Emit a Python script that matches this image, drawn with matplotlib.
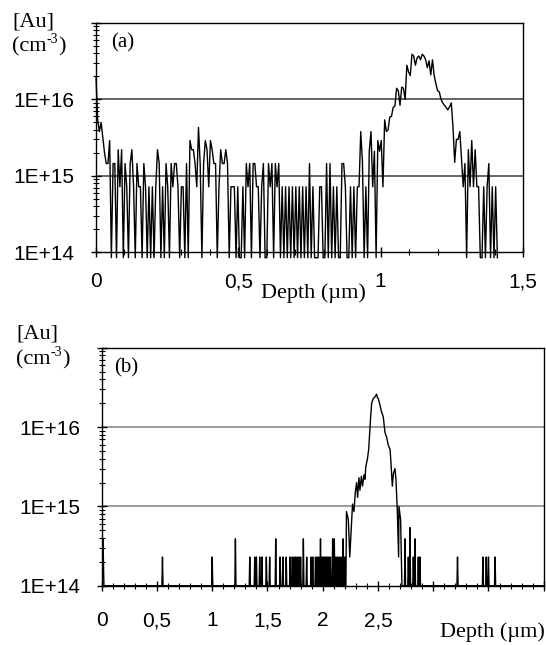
import numpy as np
import matplotlib
matplotlib.use("Agg")
import matplotlib.pyplot as plt
from matplotlib.ticker import MultipleLocator, LogLocator, NullFormatter

SANS = 'Liberation Sans'
SERIF = 'Liberation Serif'

# ---------------- data: panel (a) ----------------
a_step = 0.006          # depth step (um)
a_zero = 0.085          # plotted level (1e15 cm-3) for zero counts
# [Au] in units of 1e15 cm-3, one value per depth step
a_conc = [
    20, 5.3, 3.8, 5.0, 3.2, 2.0, 1.45, 1.45, 2.9, 0,
    1.45, 1.45, 0, 2.2, 0.72, 2.2, 0, 1.45, 0.72, 0,
    1.45, 2.2, 0.72, 0, 1.45, 0.72, 0.72, 0, 1.45, 0.72,
    0, 0.72, 0, 0.72, 0, 0.72, 2.2, 1.45, 0, 0.72,
    0, 1.45, 0.72, 0, 1.45, 0.72, 1.45, 1.45, 0.72, 0,
    0.72, 0.72, 0, 1.45, 0, 2.9, 2.2, 2.2, 1.45, 0.72,
    4.3, 1.45, 0, 1.45, 2.9, 2.2, 0.72, 2.9, 2.2, 1.45,
    1.45, 0, 0.72, 2.2, 1.45, 1.45, 2.2, 1.45, 0, 0.72,
    0.72, 0.72, 0, 0.72, 0, 0, 0.72, 0, 1.45, 0.72,
    1.45, 0, 1.45, 1.45, 0.72, 0.72, 0, 0.72, 1.45, 0,
    0, 1.45, 0.72, 1.45, 0, 1.45, 0.72, 1.45, 0, 0.72,
    0, 0.72, 0, 0.72, 0, 0.72, 0, 0.72, 0, 0.72,
    0, 0.72, 0, 0.72, 0, 1.45, 0, 0.72, 0, 0,
    0, 0.72, 0.72, 0, 0, 1.45, 0, 1.45, 0, 0.72,
    0, 0.72, 0, 0, 1.45, 1.45, 0.72, 0, 0, 0.72,
    0, 0.72, 0, 0.72, 0.72, 3.8, 1.5, 0, 0.72, 0,
    2.1, 3.8, 0.72, 2.1, 0, 2.9, 2.1, 2.9, 0.72, 5.4,
    3.8, 4.0, 5.9, 6.0, 7.9, 8.2, 14, 13, 8.4, 14.5,
    14, 10, 28, 23, 20.5, 39, 37, 28, 35, 37,
    33, 39, 37, 33, 26, 32, 21, 33, 20.5, 16,
    13, 12.5, 10, 9, 8.4, 7.8, 7.3, 8, 9, 4.4,
    1.5, 3, 3, 3.8, 1.65, 0.72, 1.45, 0, 2.2, 0.72,
    2.9, 0.72, 2.2, 0.72, 0.72, 0, 0, 0.72, 0, 0.72,
    1.45, 0, 0.72, 0, 0.72, 0,
]

# ---------------- data: panel (b) ----------------
b_step = 0.005
b_end = 4.0
# isolated noise spikes: depth (um), [Au] in units of 1e14 cm-3
b_spike_depth = [0.0, 0.01, 0.015, 0.55, 1.00, 1.21, 1.34, 1.385, 1.40, 1.43, 1.45,
                 1.49, 1.52, 1.575, 1.615, 1.64, 1.67, 1.705, 1.725, 1.74, 1.755,
                 1.77, 1.785, 1.80, 1.825, 1.855, 1.895, 1.91, 1.935, 1.95, 1.965,
                 1.98, 1.995, 2.005, 2.02, 2.03, 2.045, 2.055, 2.07, 2.09, 2.105,
                 2.12, 2.135, 2.15, 2.165, 2.185, 2.20,
                 2.745, 2.775, 2.79, 2.82, 2.835, 2.865, 2.88, 3.22, 3.45, 3.48,
                 3.50, 3.56]
b_spike_conc = [5.4, 3.9, 2.3, 2.3, 2.3, 3.9, 2.3, 2.3, 2.3, 2.3, 2.3,
                2.3, 2.3, 3.9, 2.3, 2.3, 2.3, 2.3, 2.3, 2.3, 2.3,
                2.3, 2.3, 2.3, 3.9, 2.3, 2.3, 2.3, 2.3, 2.3, 2.3,
                3.9, 2.3, 2.3, 2.3, 2.3, 2.3, 2.3, 2.3, 3.9, 3.9,
                2.3, 2.3, 2.3, 2.3, 3.9, 2.3,
                3.9, 2.3, 5.4, 2.3, 3.9, 2.3, 2.3, 2.3, 2.3, 2.3,
                2.3, 2.3]
# implanted Au peak: depth (um), [Au] in units of 1e15 cm-3 (0 = no counts)
b_peak_depth = [2.215, 2.232, 2.245, 2.262, 2.27, 2.283, 2.295, 2.307, 2.316, 2.328,
                2.337, 2.35, 2.36, 2.374, 2.383, 2.39, 2.404, 2.416, 2.425, 2.434,
                2.443, 2.458, 2.473, 2.488, 2.495, 2.503, 2.52, 2.53, 2.548, 2.564,
                2.578, 2.594, 2.61, 2.618, 2.63, 2.64, 2.654, 2.663, 2.675, 2.687,
                2.69, 2.705, 2.717]
b_peak_conc = [0.86, 0.68, 0.23, 0.68, 1.07, 0.86, 1.5, 2.0, 1.3, 2.3,
               1.6, 2.4, 1.8, 2.5, 2.2, 3.2, 3.9, 5.2, 8.5, 13.5,
               20, 23, 24, 26, 23.5, 23, 18.5, 16, 13.5, 8.5,
               7.5, 5.9, 5.2, 3.5, 1.8, 2.6, 3.0, 2.2, 0.9, 0.23,
               1.0, 0.68, 0]

a_xticks = [0, 0.5, 1, 1.5]
a_xlabels = ['0', '0,5', '1', '1,5']
b_xticks = [0, 0.5, 1, 1.5, 2, 2.5, 3, 3.5, 4]
b_xlabels = ['0', '0,5', '1', '1,5', '2', '2,5', '', '', '']
yticks = [1e14, 1e15, 1e16, 1e17]
ylabels = ['1E+14', '1E+15', '1E+16', '']

# ---------------- build series ----------------
a_vals = np.array(a_conc, dtype=float)
a_vals[a_vals == 0] = a_zero
a_y = a_vals * 1e15
a_x = np.arange(len(a_conc)) * a_step

b_grid = np.arange(0, b_end + 1e-9, b_step)
b_vals = np.full(len(b_grid), 1e14)
for d, v in zip(b_spike_depth, b_spike_conc):
    b_vals[int(round(d / b_step))] = v * 1e14
keep = (b_grid < b_peak_depth[0]) | (b_grid > b_peak_depth[-1])
pk_y = np.array(b_peak_conc, dtype=float) * 1e15
pk_y[pk_y == 0] = 1e14
b_x = np.concatenate([b_grid[keep], b_peak_depth])
b_y = np.concatenate([b_vals[keep], pk_y])
order = np.argsort(b_x, kind='stable')
b_x, b_y = b_x[order], b_y[order]

# ---------------- figure ----------------
W, H = 546, 645
fig = plt.figure(figsize=(W / 100, H / 100), dpi=100)


def fx(px):
    return px / W


def fy(py):
    return 1 - py / H


axA = fig.add_axes([fx(96), fy(252.3), 427 / W, 229.3 / H])
axB = fig.add_axes([fx(101.7), fy(585.7), 442 / W, 237.9 / H])


def style(ax, xmax, xticks, xlabels, gridc, xpad):
    ax.set_yscale('log')
    ax.set_ylim(1e14, 1e17)
    ax.set_xlim(0, xmax)
    for sp in ax.spines.values():
        sp.set_linewidth(1.0)
        sp.set_color('black')
    ax.axhline(1e15, color=gridc, lw=1.1, zorder=1)
    ax.axhline(1e16, color=gridc, lw=1.1, zorder=1)
    ax.set_yticks(yticks)
    ax.set_yticklabels(ylabels, fontfamily=SANS, fontsize=15)
    ax.yaxis.set_minor_locator(LogLocator(base=10, subs=np.arange(2, 10)))
    ax.yaxis.set_minor_formatter(NullFormatter())
    ax.tick_params(axis='y', which='major', direction='inout', length=7, width=1, pad=12.0)
    ax.tick_params(axis='y', which='minor', direction='inout', length=4, width=0.8)
    ax.set_xticks(xticks)
    ax.set_xticklabels(xlabels, fontfamily=SANS, fontsize=15)
    ax.xaxis.set_minor_locator(MultipleLocator(0.1))
    ax.tick_params(axis='x', which='major', direction='inout', length=7, width=1, pad=xpad)
    ax.tick_params(axis='x', which='minor', direction='inout', length=5, width=0.8)
    ax.tick_params(top=False, right=False)


style(axA, 1.5, a_xticks, a_xlabels, '#3a3a3a', 11)
style(axB, 4.0, b_xticks, b_xlabels, '#808080', 15)

axA.plot(a_x, a_y, color='black', lw=1.0, clip_on=False, zorder=3)
axB.plot(b_x, b_y, color='black', lw=1.0, zorder=3)

# ---------------- texts ----------------
fig.text(fx(313), fy(293), 'Depth (\u00b5m)', family=SERIF, fontsize=16, ha='center', va='center')
fig.text(fx(545), fy(632), 'Depth (\u00b5m)', family=SERIF, fontsize=16, ha='right', va='center')

renderer = fig.canvas.get_renderer()
for x0, yA, yC in [(12, 22, 47), (16, 334, 360)]:
    fig.text(fx(x0), fy(yA), '[Au]', family=SERIF, fontsize=16, ha='left', va='center')
    t1 = fig.text(fx(x0), fy(yC), '(cm', family=SERIF, fontsize=16, ha='left', va='center')
    bb = t1.get_window_extent(renderer=renderer)
    t2 = fig.text(bb.x1 / W, (bb.y1 - 9) / H, '-3', family=SERIF, fontsize=10,
                  ha='left', va='bottom')
    bb2 = t2.get_window_extent(renderer=renderer)
    fig.text(bb2.x1 / W, fy(yC), ')', family=SERIF, fontsize=16, ha='left', va='center')
fig.text(fx(111), fy(43), '(a)', family=SERIF, fontsize=15, ha='left', va='center')
fig.text(fx(114), fy(368), '(b)', family=SERIF, fontsize=15, ha='left', va='center')

fig.savefig('out.png', dpi=100)
